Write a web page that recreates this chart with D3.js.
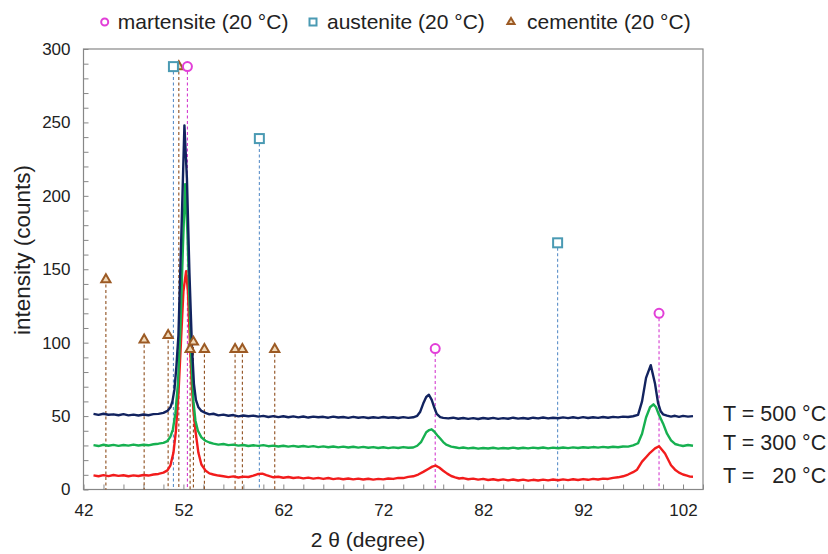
<!DOCTYPE html>
<html><head><meta charset="utf-8">
<script src="https://cdn.jsdelivr.net/npm/d3@7"></script>
<style>
html,body{margin:0;padding:0;background:#fff;}
svg{display:block;font-family:"Liberation Sans",Arial,sans-serif;}
</style></head>
<body><svg id="c" width="828" height="554"></svg>
<script>
// ---- data ----
const xTickLabels = [42, 52, 62, 72, 82, 92, 102];
const yTickLabels = [0, 50, 100, 150, 200, 250, 300];
const seriesNames = ["T = 500 °C", "T = 300 °C", "T = \u200720 °C"];

const curve500 = [[43,51.5],[43.5,50.8],[44,51.6],[44.5,50.9],[45,51.2],[45.5,50.6],[46,51.3],[46.5,50.5],[47,51.0],[47.5,50.4],[48,51.1],[48.5,50.6],[49,51.3],[49.5,51.5],[50,52.2],[50.4,53.5],[50.7,56],[50.9,60],[51.1,68],[51.3,84],[51.5,105],[51.8,175],[52.1,248],[52.35,212],[52.6,148],[52.85,98],[53.05,72],[53.25,61],[53.5,56],[53.8,53.5],[54.2,52.2],[54.6,51.2],[55,51.6],[55.5,50.5],[56,51.0],[56.5,50.2],[57,50.7],[57.5,49.8],[58,50.4],[58.5,49.9],[59,50.3],[59.5,49.6],[60,50.1],[60.5,49.4],[61,50.0],[61.5,49.3],[62,49.9],[62.5,49.2],[63,49.8],[63.5,49.1],[64,49.7],[64.5,49.0],[65,49.6],[65.5,49.2],[66,49.5],[66.5,48.9],[67,49.6],[67.5,49.0],[68,49.4],[68.5,48.8],[69,49.5],[69.5,48.9],[70,49.3],[70.5,48.7],[71,49.2],[71.5,48.8],[72,49.4],[72.5,48.9],[73,49.2],[73.5,48.7],[74,49.3],[74.5,48.8],[75,49.2],[75.4,50.2],[75.7,53],[76.0,58.5],[76.3,63],[76.57,64.5],[76.85,61],[77.1,56],[77.35,51.5],[77.7,49.3],[78,48.8],[78.5,48.4],[79,48.9],[79.5,48.2],[80,48.7],[80.5,48.1],[81,48.6],[81.5,48.0],[82,48.7],[82.5,48.2],[83,48.8],[83.5,48.1],[84,48.6],[84.5,48.2],[85,48.9],[85.5,48.3],[86,48.7],[86.5,48.2],[87,48.9],[87.5,48.4],[88,49.0],[88.5,48.4],[89,48.9],[89.5,48.5],[90,49.1],[90.5,48.6],[91,49.2],[91.5,48.6],[92,49.3],[92.5,48.7],[93,49.2],[93.5,48.8],[94,49.4],[94.5,48.9],[95,49.5],[95.5,49.1],[96,49.6],[96.5,49.4],[97,49.9],[97.5,50.8],[97.9,60],[98.3,76],[98.77,84.7],[99.2,72],[99.5,59],[99.75,53.5],[100,51.2],[100.4,50.3],[100.8,49.6],[101.2,50.2],[101.6,49.5],[102,50.1],[102.5,49.6],[103,50.0]];

const curve300 = [[43,30.2],[43.5,29.6],[44,30.5],[44.5,29.8],[45,30.4],[45.5,29.7],[46,30.3],[46.5,29.9],[47,30.6],[47.5,30.0],[48,30.5],[48.5,30.1],[49,30.8],[49.5,31.2],[50,31.8],[50.4,33],[50.7,36],[50.95,41],[51.2,52],[51.45,72],[51.7,110],[51.95,165],[52.17,208],[52.4,175],[52.6,130],[52.8,88],[53.0,60],[53.2,47],[53.45,40],[53.8,35.5],[54.2,33.2],[54.6,32.0],[55,31.2],[55.5,30.6],[56,31.0],[56.5,30.2],[57,30.6],[57.5,29.9],[58,30.3],[58.5,29.6],[59,30.1],[59.5,29.7],[60,30.2],[60.5,29.5],[61,29.9],[61.5,29.3],[62,29.8],[62.5,29.2],[63,29.7],[63.5,29.1],[64,29.6],[64.5,29.0],[65,29.5],[65.5,28.9],[66,29.4],[66.5,28.8],[67,29.3],[67.5,28.7],[68,29.2],[68.5,28.6],[69,29.1],[69.5,28.5],[70,29.0],[70.5,28.4],[71,28.9],[71.5,28.3],[72,28.8],[72.5,28.2],[73,28.7],[73.5,28.3],[74,28.9],[74.5,28.4],[75,28.6],[75.4,29.8],[75.8,32.5],[76.3,39],[76.6,40.5],[76.84,41],[77.1,39.5],[77.4,37],[77.7,34.7],[78.0,32.3],[78.3,30.5],[78.8,29.2],[79.3,28.6],[79.6,28.2],[80,28.6],[80.5,28.0],[81,28.4],[81.5,27.8],[82,28.3],[82.5,27.9],[83,28.4],[83.5,27.8],[84,28.3],[84.5,27.9],[85,28.5],[85.5,27.9],[86,28.4],[86.5,28.0],[87,28.5],[87.5,28.1],[88,28.6],[88.5,28.0],[89,28.5],[89.5,28.1],[90,28.6],[90.5,28.2],[91,28.7],[91.5,28.3],[92,28.8],[92.5,28.4],[93,28.9],[93.5,28.5],[94,29.0],[94.5,28.6],[95,29.1],[95.5,28.8],[96,29.3],[96.5,29.2],[97,30.0],[97.5,31.5],[97.9,38],[98.3,49],[98.7,56],[99.04,58],[99.3,56],[99.55,51.5],[100.0,45],[100.4,38],[100.8,33.5],[101.2,31],[101.6,30.2],[102,29.6],[102.5,30.3],[103,29.8]];

const curve20 = [[43,9.6],[43.5,9.0],[44,9.8],[44.5,9.1],[45,9.9],[45.5,9.3],[46,9.7],[46.5,9.0],[47,9.6],[47.5,9.2],[48,9.9],[48.5,9.5],[49,10.2],[49.5,10.6],[50,11.5],[50.4,13],[50.7,16.5],[51.0,25],[51.25,40],[51.5,65],[51.75,100],[52.0,135],[52.27,148.7],[52.45,135],[52.65,100],[52.85,70],[53.0,54],[53.2,40],[53.5,25],[53.8,17],[54.2,13],[54.6,11],[55,10.2],[55.5,9.5],[56,9.0],[56.5,8.4],[57,8.9],[57.5,8.2],[58,8.8],[58.5,8.5],[59,9.4],[59.5,10.6],[59.9,10.8],[60.3,9.8],[60.7,8.9],[61,8.3],[61.5,8.7],[62,8.0],[62.5,8.5],[63,7.8],[63.5,8.3],[64,7.6],[64.5,8.1],[65,7.4],[65.5,7.9],[66,7.2],[66.5,7.8],[67,7.1],[67.5,7.6],[68,7.0],[68.5,7.5],[69,6.9],[69.5,7.4],[70,6.8],[70.5,7.3],[71,6.7],[71.5,7.2],[72,6.9],[72.5,7.5],[73,7.2],[73.5,7.9],[74,7.8],[74.5,8.6],[75,9.0],[75.5,10.2],[76,12],[76.5,14],[76.9,15.6],[77.24,16.3],[77.6,15],[78,12.8],[78.4,10.8],[78.8,9.2],[79.2,8.3],[79.6,7.5],[80,7.8],[80.5,7.0],[81,7.4],[81.5,6.7],[82,7.2],[82.5,6.5],[83,7.0],[83.5,6.3],[84,6.9],[84.5,6.2],[85,6.8],[85.5,6.1],[86,6.7],[86.5,6.0],[87,6.6],[87.5,6.1],[88,6.7],[88.5,6.2],[89,6.8],[89.5,6.3],[90,6.9],[90.5,6.4],[91,7.0],[91.5,6.5],[92,7.1],[92.5,6.6],[93,7.2],[93.5,6.8],[94,7.4],[94.5,7.2],[95,7.9],[95.5,8.3],[96,9.0],[96.5,10.2],[97,11.8],[97.4,13.5],[97.9,19],[98.3,22],[98.7,25],[99.2,28],[99.6,29.5],[100.2,24.5],[100.8,16.5],[101.2,13.5],[101.6,11.5],[102,10.2],[102.4,9.4],[102.7,8.8],[103,8.7]];

// reference phase peaks (2θ, marker height)
const martensite = [[52.4, 288], [77.2, 96], [99.6, 120]];
const austenite  = [[51.0, 288], [59.6, 239], [89.45, 168]];
const cementite  = [[44.24, 143], [48.07, 102], [50.47, 105], [51.54, 288], [52.67, 95.5], [53.0, 100.5], [54.1, 95.5], [57.17, 95.5], [57.9, 95.5], [61.14, 95.5]];
const phaseNames = ["martensite (20 °C)", "austenite (20 °C)", "cementite (20 °C)"];

// ---- drawing ----
const svg = d3.select("#c");
const L = 83.5, R = 703, T = 49, B = 489.5;
const x = d3.scaleLinear().domain([42, 104]).range([L, R]);
const y = d3.scaleLinear().domain([0, 300]).range([B, T]);
const font = '"Liberation Sans", Arial, sans-serif';
const axisCol = "#878787";

// axes
const xa = d3.axisBottom(x).tickValues(d3.range(42, 104.1, 2))
  .tickSizeInner(-5).tickSizeOuter(0).tickPadding(14)
  .tickFormat(d => xTickLabels.includes(d) ? d : "");
const gx = svg.append("g").attr("transform", `translate(0,${B})`).call(xa);
const ya = d3.axisLeft(y).tickValues(d3.range(0, 300.1, 10))
  .tickSizeInner(-5).tickSizeOuter(0).tickPadding(13)
  .tickFormat(d => yTickLabels.includes(d) ? d : "");
const gy = svg.append("g").attr("transform", `translate(${L},0)`).call(ya);
[gx, gy].forEach(g => {
  g.select(".domain").remove();
  g.selectAll("line").attr("stroke", axisCol).attr("stroke-width", 1);
  g.selectAll("text").attr("font-family", font).attr("font-size", 17).attr("fill", "#222");
});
// frame
svg.append("rect").attr("x", L).attr("y", T).attr("width", R - L).attr("height", B - T)
  .attr("fill", "none").attr("stroke", axisCol).attr("stroke-width", 1.2);

// dashed reference lines
const phases = [
  {data: cementite, col: "#9c5a24", line: "#8e4d1c", shape: "tri"},
  {data: austenite, col: "#4a9ab3", line: "#5b8fc9", shape: "sq"},
  {data: martensite, col: "#e23fd8", line: "#d43ccf", shape: "circ"}
];
phases.forEach(p => {
  svg.append("g").selectAll("line").data(p.data).join("line")
    .attr("x1", d => x(d[0])).attr("x2", d => x(d[0]))
    .attr("y1", d => y(d[1]) + 5).attr("y2", y(0))
    .attr("stroke", p.line).attr("stroke-width", 1.1).attr("stroke-dasharray", "3,2.5");
});

// curves
const line = d3.line().x(d => x(d[0])).y(d => y(d[1]));
const curves = [[curve20, "#f21c1c"], [curve300, "#16b050"], [curve500, "#12235f"]];
curves.forEach(([c, col]) => {
  svg.append("path").datum(c).attr("d", line).attr("fill", "none")
    .attr("stroke", col).attr("stroke-width", 2.4).attr("stroke-linejoin", "round");
});

// markers
function marker(g, shape, col, s) {
  if (shape === "circ") g.append("circle").attr("r", s * 0.5).attr("fill", "#fff").attr("stroke", col).attr("stroke-width", 2);
  else if (shape === "sq") g.append("rect").attr("x", -s / 2).attr("y", -s / 2).attr("width", s).attr("height", s).attr("fill", "#fff").attr("stroke", col).attr("stroke-width", 2);
  else g.append("path").attr("d", d3.symbol(d3.symbolTriangle, s * s * 0.45)()).attr("fill", "#f0d9b8").attr("stroke", col).attr("stroke-width", 2);
}
phases.forEach(p => {
  p.data.forEach(d => {
    const g = svg.append("g").attr("transform", `translate(${x(d[0])},${y(d[1])})`);
    marker(g, p.shape, p.col, 9);
  });
});

// legend
const legX = [[104.7, 117.8], [313, 327], [511, 527]];
const legOrder = [phases[2], phases[1], phases[0]];
legOrder.forEach((p, i) => {
  const g = svg.append("g").attr("transform", `translate(${legX[i][0]},22)`);
  marker(g, p.shape, p.col, 7);
  svg.append("text").attr("x", legX[i][1]).attr("y", 29).attr("font-family", font)
    .attr("font-size", 21).attr("fill", "#222").text(phaseNames[i]);
});

// series labels
const labY = [420.5, 449.5, 483];
seriesNames.forEach((s, i) => {
  svg.append("text").attr("x", 723).attr("y", labY[i]).attr("font-family", font)
    .attr("font-size", 21.5).attr("fill", "#222").text(s);
});

// axis titles
svg.append("text").attr("x", 368).attr("y", 547).attr("text-anchor", "middle")
  .attr("font-family", font).attr("font-size", 21).attr("fill", "#222").text("2 θ (degree)");
svg.append("text").attr("transform", "translate(30,250) rotate(-90)").attr("text-anchor", "middle")
  .attr("font-family", font).attr("font-size", 22.5).attr("fill", "#222").text("intensity (counts)");
</script></body></html>
